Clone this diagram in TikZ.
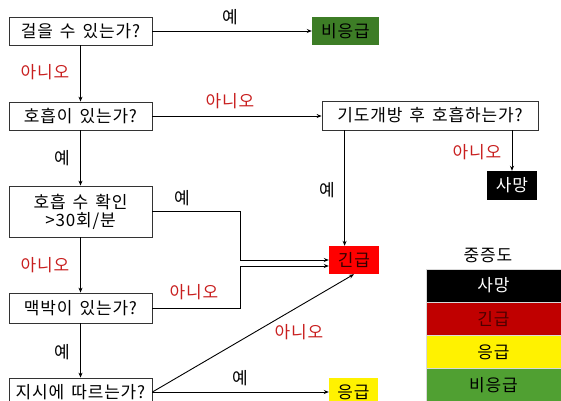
\documentclass[tikz,border=0pt]{standalone}
\usepackage{fontspec}
\setmainfont[LetterSpace=5,WordSpace=1.5]{Noto Sans CJK KR}
\usetikzlibrary{arrows.meta,calc}
\definecolor{lblred}{RGB}{200,30,30}
\definecolor{nongreen}{RGB}{61,125,38}
\definecolor{leggreen}{RGB}{80,160,50}
\definecolor{legred}{RGB}{192,0,0}
\definecolor{urgred}{RGB}{255,0,0}
\begin{document}
\begin{tikzpicture}[x=1pt,y=-1pt,
  txt/.style={font=\fontsize{17}{19}\selectfont},
  qbox/.style={txt,draw=black!80,line width=0.8pt,fill=white,inner sep=0pt,minimum width=143pt,minimum height=28pt,align=center},
  tag/.style={txt,inner sep=0pt,minimum height=28pt},
  arr/.style={line width=0.9pt,-{Stealth[length=5pt,width=4pt]}},
  ylab/.style={txt,inner sep=0pt},
  nlab/.style={txt,inner sep=0pt,text=lblred},
  leg/.style={txt,inner sep=0pt,minimum width=135pt,minimum height=33pt,draw=white!85!black,line width=0.4pt}
]
\useasboundingbox (0,0) rectangle (561,400);

% decision boxes
\node[qbox] (walk) at (80.5,31) {걸을 수 있는가?};
\node[qbox] (breath) at (80.5,116) {호흡이 있는가?};
\node[qbox,minimum height=51pt] (rate) at (80.5,211.5) {호흡 수 확인\\[-1pt]>30회/분};
\node[qbox,minimum height=30pt] (pulse) at (80.5,308) {맥박이 있는가?};
\node[qbox] (obey) at (80.5,392) {지시에 따르는가?};
\node[qbox,minimum width=216pt,minimum height=29pt] (airway) at (430,115.5) {기도개방 후 호흡하는가?};

% outcome tags
\node[tag,fill=nongreen,minimum width=67pt] (minor) at (345.5,31) {비응급};
\node[tag,fill=black,text=white,minimum width=50pt,minimum height=29pt] (dead) at (512,185.5) {사망};
\node[tag,fill=urgred,text=black!80!red,minimum width=50pt] (urgent) at (354,260) {긴급};
\node[tag,fill=yellow,minimum width=49pt] (delayed) at (353.5,392) {응급};

% connectors
\draw[arr] (walk.east) -- (minor.west);
\draw[arr] (walk.south) -- (breath.north);
\draw[arr] (breath.east) -- (breath.east -| airway.west);
\draw[arr] (breath.south) -- (rate.north);
\draw[arr] ([xshift=23pt]airway.south west) -- ([xshift=23pt]airway.south west |- urgent.north);
\draw[arr] (airway.south -| dead.north) -- (dead.north);
\coordinate (b1) at (240,212);
\coordinate (b2) at (240,308);
\draw[arr] (rate.east) -- (rate.east -| b1) -- (b1 |- urgent.west) -- (urgent.west);
\draw[arr] (rate.south) -- (pulse.north);
\draw[arr] (pulse.east) -- (pulse.east -| b2) -- ([yshift=-6pt]urgent.west -| b2) -- ([yshift=-6pt]urgent.west);
\draw[arr] (pulse.south) -- (obey.north);
\draw[arr] (obey.east) -- (delayed.west);
\draw[arr] (obey.east) -- (urgent.south);

% labels
\node[ylab] (l1) at (230,17) {예};
\node[nlab] (l2) at (45,72) {아니오};
\node[nlab] (l3) at (230,101) {아니오};
\node[ylab] (l4) at (62,158) {예};
\node[ylab] (l5) at (327,190) {예};
\node[nlab] (l6) at (477,152) {아니오};
\node[ylab] (l7) at (182,198) {예};
\node[nlab] (l8) at (45,265) {아니오};
\node[nlab] (l9) at (194,292) {아니오};
\node[ylab] (l10) at (62,352) {예};
\node[ylab] (l11) at (240,378) {예};
\node[nlab] (l12) at (299,332) {아니오};

% legend
\node[ylab] (legt) at (488,255) {중증도};
\node[leg,fill=black,text=white] (lg1) at (493.5,285.5) {사망};
\node[leg,fill=legred,text=black!70!red] (lg2) at (493.5,319) {긴급};
\node[leg,fill=yellow] (lg3) at (493.5,352) {응급};
\node[leg,fill=leggreen] (lg4) at (493.5,385) {비응급};
\end{tikzpicture}
\end{document}
